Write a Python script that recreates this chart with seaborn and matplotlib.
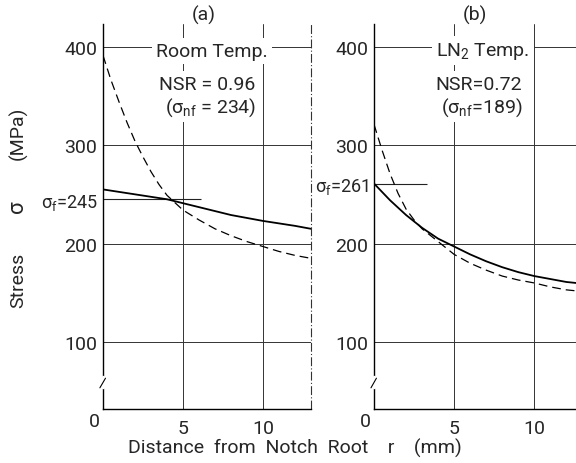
import numpy as np
import pandas as pd
import matplotlib.pyplot as plt
import seaborn as sns

# Distance from notch root r (mm) and stress (MPa)
# (a) Room Temp.
r_a_solid = [0, 2, 4, 6, 8, 10, 12, 13]
s_a_solid = [255, 250, 245, 237, 229, 223, 218, 215]
r_a_dash = [0, 0.5, 1, 1.5, 2, 2.5, 3, 3.5, 4, 5, 6, 7, 8, 9, 10, 11, 12, 13]
s_a_dash = [391, 366, 344, 323, 304, 288, 273, 260, 249, 234, 224, 215, 208, 202, 197, 192, 188, 185]

# (b) LN2 Temp.
r_b_solid = [0, 1, 2, 3, 4, 5, 6, 7, 8, 9, 10, 11, 12, 12.6]
s_b_solid = [261, 244, 229, 216, 205, 197, 189, 182, 176, 171, 167, 164, 161, 160]
r_b_dash = [0, 0.5, 1, 1.5, 2, 2.5, 3, 4, 5, 6, 7, 8, 9, 10, 11, 12, 12.6]
s_b_dash = [321, 295, 271, 251, 235, 224, 215, 202, 189, 180, 173, 167, 163, 160, 156, 153, 152]

panels = ['(a)', '(b)']
temps = ['Room Temp.', r'LN$_2$ Temp.']
nsr = ['NSR = 0.96', 'NSR=0.72']
nf_text = [r'($\sigma_{nf}$ = 234)', r'($\sigma_{nf}$=189)']
sigma_f = [245, 261]
sigma_f_len = [6.1, 3.3]
x_max = [13, 12.6]

y_tick_vals = [100, 200, 300, 400]
x_tick_vals = [5, 10]
y_floor = 32  # broken axis: bottom of the axis stands for 0

sns.set_style('white')
plt.rcParams['font.family'] = ['Roboto', 'DejaVu Sans']
plt.rcParams['mathtext.fontset'] = 'custom'
plt.rcParams['mathtext.rm'] = 'Roboto'
plt.rcParams['mathtext.default'] = 'regular'

fs = 14
fig = plt.figure(figsize=(5.76, 4.64), dpi=100)
ax_a = fig.add_axes([103 / 576, 54 / 464, 208 / 576, 385 / 464])
ax_b = fig.add_axes([374 / 576, 54 / 464, 202 / 576, 385 / 464])

curves = [(r_a_solid, s_a_solid, r_a_dash, s_a_dash),
          (r_b_solid, s_b_solid, r_b_dash, s_b_dash)]

for i, ax in enumerate([ax_a, ax_b]):
    rs, ss, rd, sd = curves[i]
    ax.set_xlim(0, x_max[i])
    ax.set_ylim(y_floor, 423)

    # grid
    for v in y_tick_vals:
        ax.axhline(v, color='#333333', lw=0.7, zorder=1)
    for v in x_tick_vals:
        ax.axvline(v, color='#333333', lw=0.7, zorder=1)
    ax.hlines(sigma_f[i], 0, sigma_f_len[i], color='#222222', lw=0.8, zorder=1)

    sns.lineplot(x=rs, y=ss, ax=ax, color='black', lw=1.3, zorder=4)
    sns.lineplot(x=rd, y=sd, ax=ax, color='black', lw=0.9, zorder=4)
    ax.lines[-1].set_dashes((7, 4))

    ax.set_yticks(y_tick_vals + [sigma_f[i]])
    ax.set_yticklabels([str(v) for v in y_tick_vals] + [rf'$\sigma_f$={sigma_f[i]}'])
    ax.set_xticks(x_tick_vals)
    ax.tick_params(axis='y', length=0, labelsize=fs, pad=4)
    ax.tick_params(axis='x', length=0, labelsize=fs, pad=7)
    ax.get_yticklabels()[-1].set_fontsize(13)

    for side in ['top', 'right']:
        ax.spines[side].set_visible(False)
    for side in ['left', 'bottom']:
        ax.spines[side].set_color('black')
        ax.spines[side].set_linewidth(1.0)

    # corner zero
    ax.annotate('0', xy=(0, 0), xycoords='axes fraction', xytext=(-9, -12),
                textcoords='offset pixels', ha='center', va='center', fontsize=fs)
    # axis break mark
    ax.plot([0, 0], [0.058, 0.082], transform=ax.transAxes, color='white',
            lw=2.5, clip_on=False, zorder=5)
    ax.plot([-0.015, 0.012], [0.055, 0.080], transform=ax.transAxes, color='black',
            lw=0.8, clip_on=False, zorder=6)

    # annotations
    box = dict(fc='white', ec='none', pad=3)
    ax.text(6.3, 433, panels[i], ha='center', va='center', fontsize=fs, clip_on=False)
    ax.text(6.8, 396, temps[i], ha='center', va='center', fontsize=fs, bbox=box, zorder=3)
    ax.text(6.5, 362, nsr[i], ha='center', va='center', fontsize=fs, bbox=box, zorder=3)
    ax.text(6.7, 339, nf_text[i], ha='center', va='center', fontsize=fs, bbox=box, zorder=3)

# right border of panel (a)
ax_a.axvline(13, color='#333333', lw=0.8, ls=(0, (8, 2, 1, 2)), zorder=1, clip_on=False)

fig.text(18 / 576, 1 - 280 / 464, 'Stress', rotation=90, ha='center', va='center', fontsize=fs)
fig.text(18 / 576, 1 - 207 / 464, 'σ', rotation=90, ha='center', va='center', fontsize=16)
fig.text(18 / 576, 1 - 133 / 464, '(MPa)', rotation=90, ha='center', va='center', fontsize=fs)
fig.text(295 / 576, 1 - 448 / 464, 'Distance  from  Notch  Root    r    (mm)',
         ha='center', va='center', fontsize=fs)

plt.savefig('out.png', dpi=100)
